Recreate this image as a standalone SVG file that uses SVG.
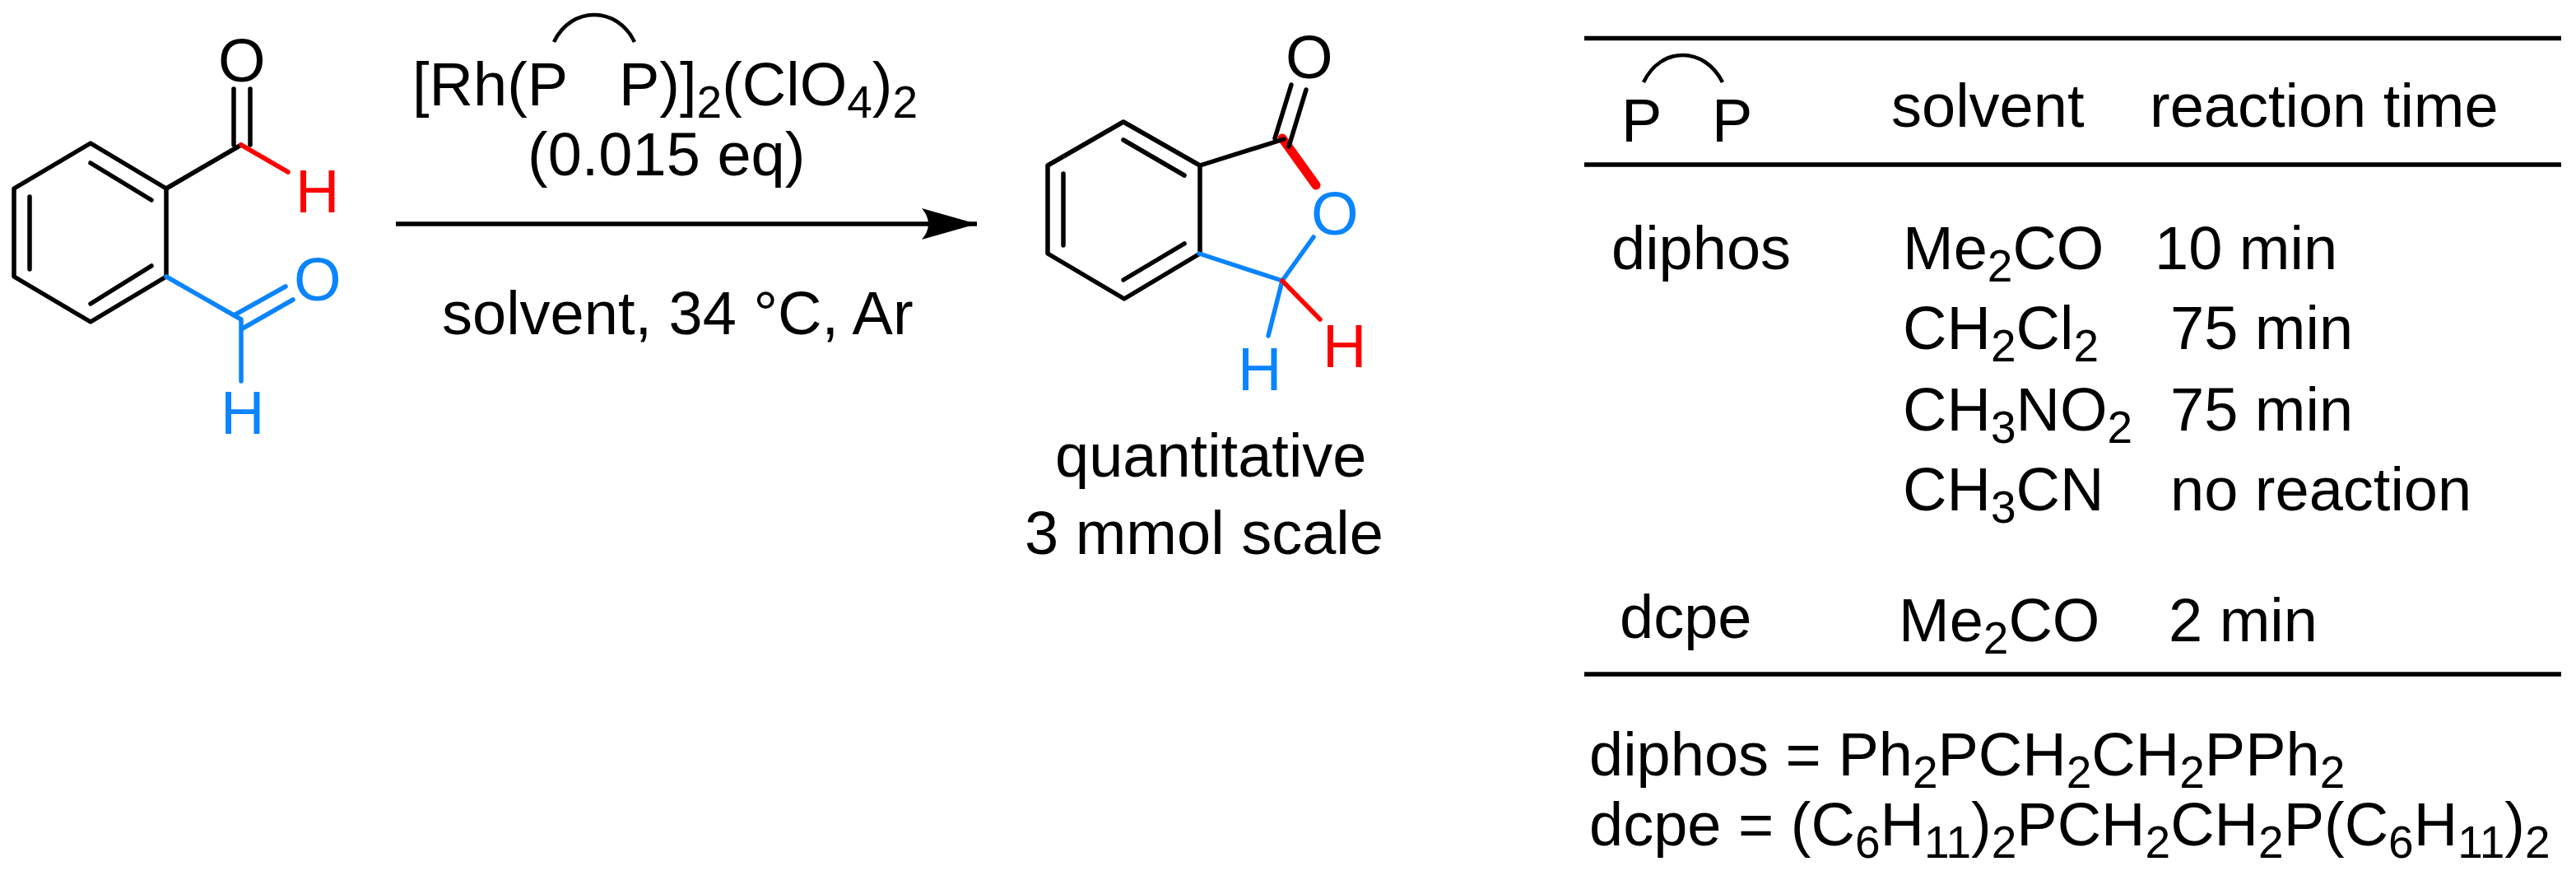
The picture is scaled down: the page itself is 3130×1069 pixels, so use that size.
<svg xmlns="http://www.w3.org/2000/svg" width="3130" height="1069" viewBox="0 0 3130 1069">
<style>
text{font-family:"Liberation Sans",Arial,sans-serif;font-size:74px;fill:#000}
.s{font-size:55px}
.b{fill:none;stroke:#000;stroke-width:5.5;stroke-linecap:round;stroke-linejoin:round}
.blue{stroke:#0a84ff}
.red{stroke:#ff0000}
text.tb{fill:#0a84ff}
text.tr{fill:#ff0000}
.rule{stroke:#000;stroke-width:5.5}
</style>
<defs>
<marker id="head" markerUnits="userSpaceOnUse" markerWidth="70" markerHeight="40" refX="67" refY="19" orient="auto">
<path d="M0 0L67 19L0 38Q16 19 0 0Z" fill="#000"/>
</marker>
</defs>
<rect width="3130" height="1069" fill="#fff"/>
<g id="reactant">
<path class="b" d="M110 174L202 229V336L110 391L17 336V229Z"/>
<path class="b" d="M110 198L184 243M36 239V327M110 369L184 323"/>
<path class="b" d="M202 229L293 176M284 176V108M304 176V108"/>
<path class="b red" d="M293 176L350 209"/>
<path class="b blue" d="M202 336L293 388V463M286 382L347 348M293 400L356 364"/>
<text x="265" y="99">O</text>
<text class="tr" x="359" y="258">H</text>
<text class="tb" x="357" y="365">O</text>
<text class="tb" x="268" y="527">H</text>
</g>
<g id="product">
<path class="b" d="M1365 148L1458 201V308L1366 363L1273 308V201Z"/>
<path class="b" d="M1365 170L1439 213M1292 211V298M1365 340L1439 296"/>
<path class="b red" style="stroke-width:11" d="M1558 168L1599 225"/>
<path class="b" d="M1458 201L1560 169M1549 168L1569 103M1566 178L1587 109"/>
<path class="b blue" d="M1457 308L1558 341L1596 288M1558 341L1541 408"/>
<path class="b red" d="M1558 341L1604 388"/>
<text x="1562" y="95">O</text>
<text class="tb" x="1593" y="285">O</text>
<text class="tr" x="1607" y="446">H</text>
<text class="tb" x="1504" y="474">H</text>
<text x="1282" y="579">quantitative</text>
<text x="1245" y="673">3 mmol scale</text>
</g>
<g id="conditions">
<text x="501" y="128">[Rh(P</text>
<text x="752" y="128">P)]<tspan class="s" dy="15">2</tspan><tspan dy="-15">(ClO</tspan><tspan class="s" dy="15">4</tspan><tspan dy="-15">)</tspan><tspan class="s" dy="15">2</tspan></text>
<path class="b" style="stroke-width:4.5;stroke-linecap:butt" d="M673 51C694 7 750 7 771 51"/>
<text x="641" y="213">(0.015 eq)</text>
<text x="537" y="406">solvent, 34 °C, Ar</text>
</g>
<g id="connectors">
<line x1="481" y1="272" x2="1187" y2="272" stroke="#000" stroke-width="5.5" marker-end="url(#head)"/>
</g>
<g id="table">
<line class="rule" x1="1925" y1="46.5" x2="3112" y2="46.5"/>
<line class="rule" x1="1925" y1="200" x2="3112" y2="200"/>
<line class="rule" x1="1925" y1="819" x2="3112" y2="819"/>
<text x="1970" y="172">P</text>
<text x="2080" y="172">P</text>
<path class="b" style="stroke-width:4.5;stroke-linecap:butt" d="M1997 100C2018 56 2071 56 2093 100"/>
<text x="2298" y="154">solvent</text>
<text x="2612" y="154">reaction time</text>
<text x="1958" y="327">diphos</text>
<text x="2312" y="327">Me<tspan class="s" dy="15">2</tspan><tspan dy="-15">CO</tspan></text>
<text x="2618" y="327">10 min</text>
<text x="2312" y="424">CH<tspan class="s" dy="15">2</tspan><tspan dy="-15">Cl</tspan><tspan class="s" dy="15">2</tspan></text>
<text x="2637" y="424">75 min</text>
<text x="2312" y="523">CH<tspan class="s" dy="15">3</tspan><tspan dy="-15">NO</tspan><tspan class="s" dy="15">2</tspan></text>
<text x="2637" y="523">75 min</text>
<text x="2312" y="620">CH<tspan class="s" dy="15">3</tspan><tspan dy="-15">CN</tspan></text>
<text x="2637" y="620">no reaction</text>
<text x="1968" y="775">dcpe</text>
<text x="2307" y="779">Me<tspan class="s" dy="15">2</tspan><tspan dy="-15">CO</tspan></text>
<text x="2635" y="779">2 min</text>
<text x="1931" y="942">diphos = Ph<tspan class="s" dy="15">2</tspan><tspan dy="-15">PCH</tspan><tspan class="s" dy="15">2</tspan><tspan dy="-15">CH</tspan><tspan class="s" dy="15">2</tspan><tspan dy="-15">PPh</tspan><tspan class="s" dy="15">2</tspan></text>
<text x="1931" y="1027">dcpe = (C<tspan class="s" dy="15">6</tspan><tspan dy="-15">H</tspan><tspan class="s" dy="15">11</tspan><tspan dy="-15">)</tspan><tspan class="s" dy="15">2</tspan><tspan dy="-15">PCH</tspan><tspan class="s" dy="15">2</tspan><tspan dy="-15">CH</tspan><tspan class="s" dy="15">2</tspan><tspan dy="-15">P(C</tspan><tspan class="s" dy="15">6</tspan><tspan dy="-15">H</tspan><tspan class="s" dy="15">11</tspan><tspan dy="-15">)</tspan><tspan class="s" dy="15">2</tspan></text>
</g>
</svg>
